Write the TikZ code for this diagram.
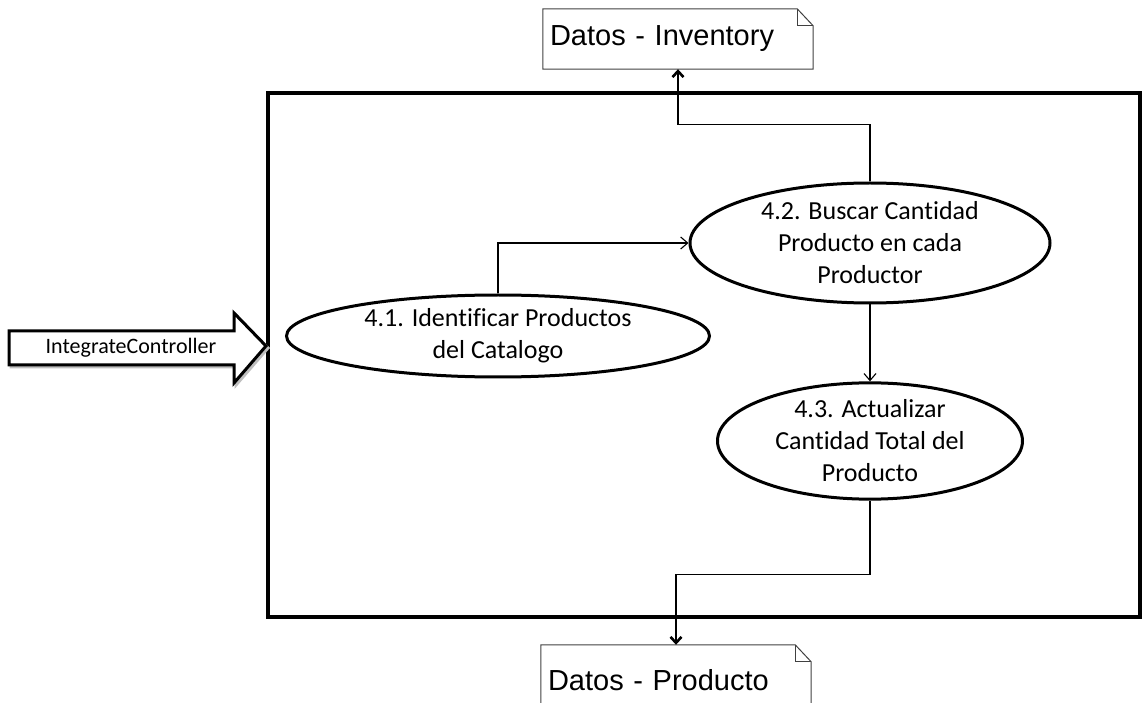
\documentclass[tikz,border=0pt]{standalone}
\usepackage{fontspec}
\setmainfont{Carlito}[Ligatures=NoCommon]
\newfontfamily\notefont{Liberation Sans}
\usetikzlibrary{arrows.meta,shapes.geometric,calc}

\tikzset{
  process/.style={draw, line width=3pt, ellipse, inner sep=0pt, align=center,
    font=\fontsize{26}{32}\selectfont},
  datanote/.style={minimum width=270, minimum height=60, inner xsep=7pt,
    text width=256, align=left, font=\notefont\fontsize{29}{32}\selectfont},
  flow/.style={line width=1.1pt},
  flowtip/.style={flow, -{Straight Barb[length=7pt,width=12pt,line width=1.1pt]}},
  storetip/.style={line width=2.6pt, -{Straight Barb[length=6pt,width=11pt]}},
}

\begin{document}
\begin{tikzpicture}[x=1pt,y=-1pt]
\useasboundingbox (0,0) rectangle (1144,703);
\clip (0,0) rectangle (1144,703);

% process boundary
\node[draw, line width=4pt, minimum width=872, minimum height=524, inner sep=0pt]
  (sys) at (704,355) {};

% data stores (notes with a folded corner)
\node[datanote] (inv) at (678,39) {Datos - Inventory};
\node[datanote, minimum height=70] (prod) at (676,680) {Datos - Producto};
\foreach \n in {inv,prod}{
  \draw[line width=1pt, black!75]
    (\n.south west) -- (\n.north west) -- ($(\n.north east)+(-16,0)$)
    -- ($(\n.north east)+(0,17)$) -- (\n.south east) -- cycle;
  \draw[line width=1pt, black!75]
    ($(\n.north east)+(-16,0)$) -- ($(\n.north east)+(-16,17)$) -- ($(\n.north east)+(0,17)$);
}

% processes
\node[process, minimum width=423, minimum height=82] (e41) at (498,336)
  {4.1. Identificar Productos\\del Catalogo};
\node[process, minimum width=360, minimum height=120] (e42) at (870,243)
  {4.2. Buscar Cantidad\\Producto en cada\\Productor};
\node[process, minimum width=305, minimum height=113] (e43) at (870,441)
  {4.3. Actualizar\\Cantidad Total del\\Producto};

% external input: block arrow
\coordinate (tip) at (sys.west |- 0,346);
\foreach \dx/\col in {2/black!25, 0/black}{
  \draw[line width=3pt, draw=\col, fill=white, line join=miter]
    ($(tip)+(-257+\dx,-15+\dx)$) -- ($(tip)+(-32+\dx,-15+\dx)$)
    -- ($(tip)+(-32+\dx,-33+\dx)$) -- ($(tip)+(\dx,\dx)$)
    -- ($(tip)+(-32+\dx,37+\dx)$) -- ($(tip)+(-32+\dx,19+\dx)$)
    -- ($(tip)+(-257+\dx,19+\dx)$) -- cycle;
}
\node[font=\fontsize{22}{26}\selectfont] (ic) at (131,348) {IntegrateController};

% data flows
\draw[flowtip] (e41.north) |- (e42.west);
\draw[flowtip] (e42.south) -- (e43.north);

\coordinate (topjoin) at (sys.north -| inv.south);
\draw[flow] (e42.north) -- ++(0,-57) -| (topjoin);
\draw[storetip] (topjoin) -- (inv.south);

\coordinate (botjoin) at (sys.south -| prod.north);
\draw[flow] (e43.south) -- ++(0,74) -| (botjoin);
\draw[storetip] (botjoin) -- (prod.north);
\end{tikzpicture}
\end{document}
